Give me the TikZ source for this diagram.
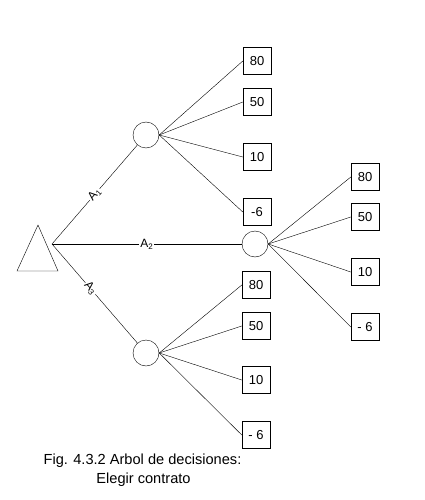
\documentclass[tikz,border=0pt]{standalone}
\usepackage{fontspec}
\setmainfont{Liberation Sans}
\begin{document}
\begin{tikzpicture}[x=1pt,y=-1pt, font=\fontsize{13}{15}\selectfont,
 box/.style={draw, minimum width=28pt, minimum height=27pt, inner sep=0pt},
 chance/.style={draw, circle, minimum size=26pt, inner sep=0pt},
 lbl/.style={fill=white, inner sep=1pt, sloped, font=\fontsize{12}{14}\selectfont},
 capt/.style={inner sep=0pt, anchor=base, font=\fontsize{14.6}{17}\selectfont}]
\useasboundingbox[fill=white] (0,0) rectangle (425,500);
\draw (38,225) -- (58,271) -- (17,271) -- cycle;
\coordinate (root) at (52,244);
\node[chance] (c1) at (146,135) {};
\node[chance] (c2) at (255,244) {};
\node[chance] (c3) at (146,353) {};
% column 1
\node[box] (a80) at (257,61) {80};
\node[box] (a50) at (257,102) {50};
\node[box] (a10) at (257,157) {10};
\node[box] (a6) at (257,212) {-6};
% column 2
\node[box] (b80) at (365,177) {80};
\node[box] (b50) at (365,217) {50};
\node[box] (b10) at (365,272) {10};
\node[box] (b6) at (365,327) {- 6};
% column 3
\node[box] (d80) at (256,285) {80};
\node[box] (d50) at (256,326) {50};
\node[box] (d10) at (256,380) {10};
\node[box] (d6) at (256,435) {- 6};
% decision branches
\draw (root) -- node[lbl] {A\textsubscript{1}} (c1);
\draw (root) -- node[lbl] {A\textsubscript{2}} (c2);
\draw (root) -- node[lbl, pos=0.45] {A\textsubscript{3}} (c3);
% outcome branches
\foreach \t in {a80,a50,a10,a6} \draw (c1.east) -- (\t.west);
\foreach \t in {b80,b50,b10,b6} \draw (c2.east) -- (\t.west);
\foreach \t in {d80,d50,d10,d6} \draw (c3.east) -- (\t.west);
% caption
\node[capt] (cap1) at (142.5,464) {Fig. 4.3.2 Arbol de decisiones:};
\node[capt] (cap2) at (143.5,483) {Elegir contrato};
\end{tikzpicture}
\end{document}
